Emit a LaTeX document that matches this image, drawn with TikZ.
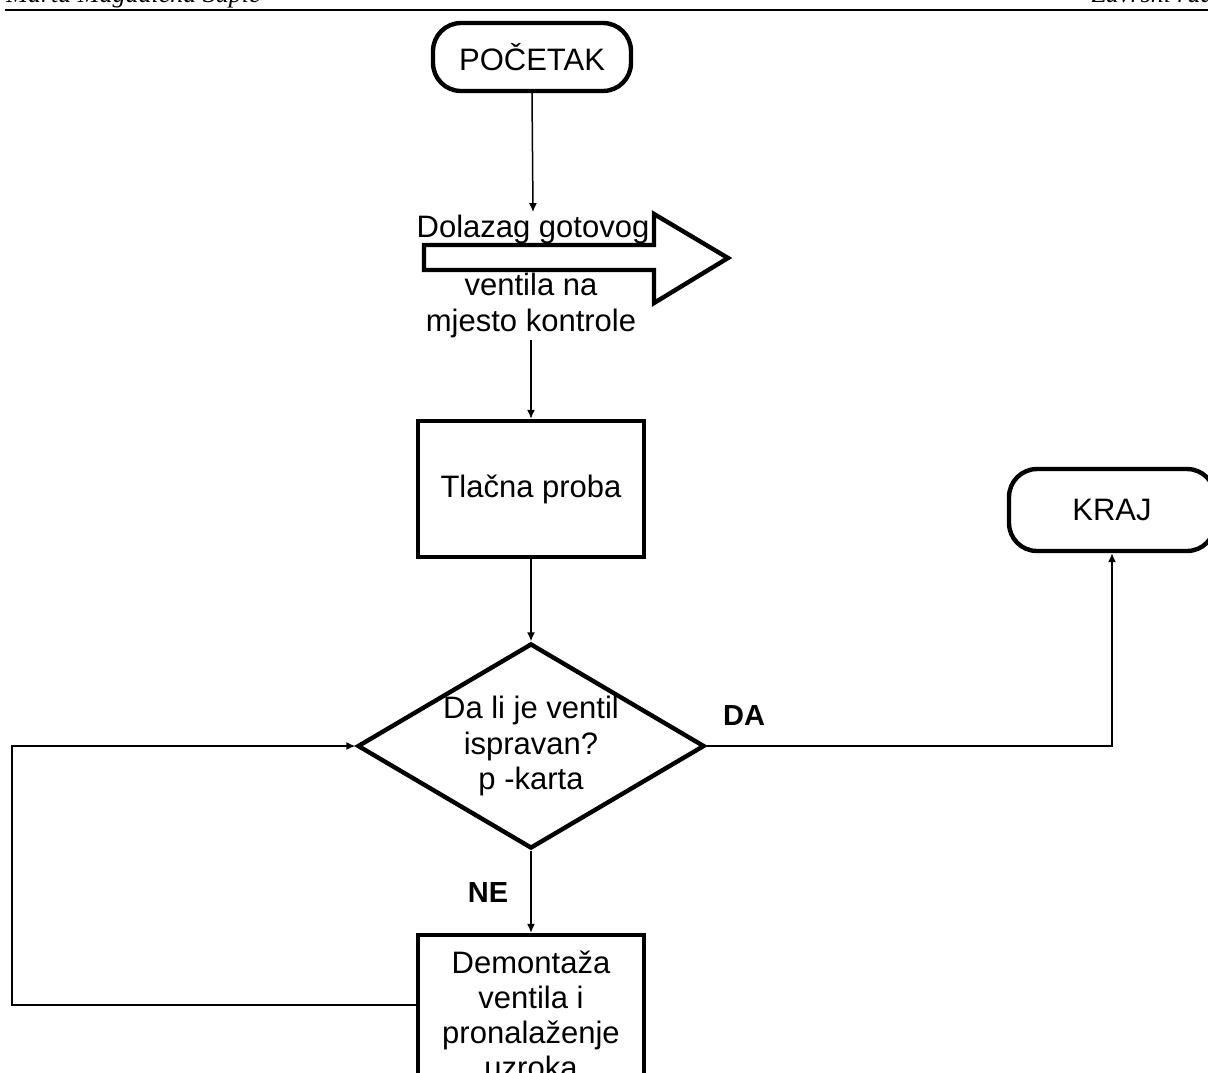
\documentclass[tikz,border=0pt]{standalone}
\usepackage{fontspec}
\setmainfont{Liberation Sans}
\newfontfamily\hdrfont{Liberation Serif}
\usetikzlibrary{arrows.meta,shapes.geometric}
\tikzset{
  shape line/.style={line width=2.2pt},
  term/.style={shape line, draw, rounded corners=14pt, align=center, inner sep=0pt},
  procbox/.style={shape line, draw, align=center, inner sep=0pt},
  decis/.style={shape line, draw, diamond, align=center, inner sep=0pt, aspect=1.69},
  txt/.style={align=center, inner sep=1pt},
  conn/.style={line width=0.75pt, -{Latex[length=4.5pt,width=4pt]}},
  plainconn/.style={line width=0.75pt},
  lbl/.style={font=\fontsize{14.5}{16}\selectfont\bfseries, inner sep=0pt},
}
\begin{document}
\begin{tikzpicture}[x=0.5pt,y=-0.5pt, font=\fontsize{15.5}{17.6}\selectfont]
\useasboundingbox (0,0) rectangle (1208,1072);
% header
\node[anchor=base west, inner sep=0pt, font=\hdrfont\itshape\fontsize{13}{15}\selectfont] (hl) at (6,2) {Marta Magdalena Šupić};
\node[anchor=base east, inner sep=0pt, font=\hdrfont\itshape\fontsize{13}{15}\selectfont] (hr) at (1214,2) {Završni rad};
\coordinate (hla) at (5,10);
\coordinate (hlb) at (1210,10);
\draw[line width=1.3pt] (hla) -- (hlb);

% start
\node[term, minimum width=99pt, minimum height=34pt] (start) at (532,57) {POČETAK};

% block arrow (transport)
\draw[shape line, fill=white] (424,245) -- (654,245) -- (654,214) -- (728,258) -- (654,303) -- (654,270) -- (424,270) -- cycle;
\node[txt, anchor=base] (t1) at (533,237) {Dolazag gotovog};
\node[txt, anchor=north] (t3) at (531,271) {ventila na\\mjesto kontrole};

% test box
\node[procbox, minimum width=113pt, minimum height=68pt] (proba) at (531,489) {Tlačna proba};

% decision
\node[decis, minimum width=173.5pt, minimum height=102.5pt] (dec) at (531,746) {Da li je ventil\\ispravan?\\p -karta};

% end
\node[term, minimum width=103pt, minimum height=41pt] (kraj) at (1112,510) {KRAJ};

% dismantle box
\node[procbox, minimum width=113pt, minimum height=80pt] (dem) at (531,1015) {Demontaža\\ventila i\\pronalaženje\\uzroka};

% labels
\node[lbl] (da) at (744,716) {DA};
\node[lbl] (ne) at (488,893) {NE};

% connectors
\draw[conn] (start.south) -- (t1.north);
\draw[conn] (t3.south) -- (proba.north);
\draw[conn] (proba.south) -- (dec.north);
\draw[conn] (dec.east) -| (kraj.south);
\draw[conn] (dec.south) -- (dem.north);
\coordinate (loopc) at (12,746);
\draw[conn] ([yshift=5pt]dem.west) -| (loopc) -- (dec.west);
\end{tikzpicture}
\end{document}
